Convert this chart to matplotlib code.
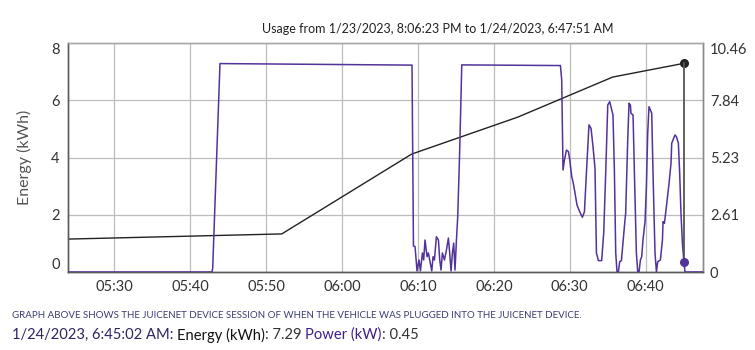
import datetime as dt

import matplotlib
matplotlib.use("Agg")
import matplotlib.pyplot as plt
import matplotlib.dates as mdates

plt.rcParams["font.family"] = ["Lato", "DejaVu Sans"]

# Minutes after 05:00 on 1/24/2023 and power draw (kW).
power_minutes = [
    23.94, 42.90, 42.99, 43.95, 69.23, 69.42, 69.63, 69.89, 70.15, 70.34,
    70.60, 70.77, 70.94, 71.21, 71.39, 71.56, 71.83, 72.00, 72.18, 72.44,
    72.71, 72.88, 73.05, 73.23, 73.50, 73.76, 74.02, 74.19, 74.37, 74.55,
    74.72, 74.89, 75.08, 75.25, 75.51, 75.78, 88.77, 88.94, 89.11, 89.30,
    89.56, 89.82, 90.00, 90.26, 90.43, 90.69, 90.95, 91.31, 91.66, 91.93,
    92.19, 92.53, 92.80, 93.06, 93.32, 93.51, 93.77, 94.20, 94.47, 94.73,
    95.00, 95.26, 95.69, 95.88, 96.05, 96.22, 96.40, 96.57, 96.80, 97.19,
    97.36, 97.63, 97.80, 97.98, 98.06, 98.33, 98.51, 98.77, 98.95, 99.12,
    99.30, 99.47, 99.64, 99.83, 99.91, 100.09, 100.26, 100.43, 100.62, 100.79,
    100.96, 101.22, 101.41, 101.58, 101.93, 102.20, 102.28, 102.46, 102.72, 103.07,
    103.33, 103.42, 103.68, 103.86, 104.04, 104.30, 104.47, 104.64, 104.83, 105.03,
    105.17, 107.54,
]
power_kw = [
    0.00, 0.00, 0.18, 9.52, 9.45, 1.19, 1.16, 0.05, 0.55, 0.05,
    0.87, 0.55, 1.46, 0.70, 0.87, 0.55, 0.05, 0.70, 0.55, 1.61,
    1.46, 0.55, 0.09, 0.87, 0.55, 1.00, 1.55, 0.87, 0.05, 0.87,
    1.32, 0.09, 1.46, 2.53, 5.57, 9.46, 9.43, 8.77, 4.66, 5.12,
    5.57, 5.50, 5.12, 4.35, 4.12, 3.61, 3.06, 2.75, 2.50, 2.75,
    4.52, 6.72, 6.56, 5.72, 4.74, 0.87, 0.52, 0.52, 1.78, 4.52,
    7.63, 7.78, 7.17, 4.52, 0.87, 0.00, 0.00, 0.47, 0.52, 2.07,
    2.70, 6.03, 7.71, 7.63, 7.25, 7.17, 4.52, 0.87, 0.00, 0.00,
    0.55, 0.70, 1.46, 2.07, 2.30, 3.90, 6.34, 7.55, 7.40, 7.25,
    4.52, 0.87, 0.00, 0.47, 0.55, 1.46, 2.30, 2.22, 2.98, 4.05,
    4.97, 5.88, 6.11, 6.26, 6.18, 5.88, 4.51, 2.68, 1.31, 0.45,
    0.00, 0.00,
]

# Cumulative energy (kWh).
energy_minutes = [23.94, 52.08, 69.19, 83.15, 95.65, 105.03]
energy_kwh = [1.15, 1.33, 4.12, 5.41, 6.81, 7.29]

# Hovered sample
hover_minute = 105.03
hover_energy = 7.29
hover_power = 0.45

energy_ticks = [0, 2, 4, 6, 8]
power_ticks = [0, 2.615, 5.23, 7.845, 10.46]
power_tick_labels = ["0", "2.61", "5.23", "7.84", "10.46"]

x_start = 23.94
x_end = 107.54

base = dt.datetime(2023, 1, 24, 5, 0, 0)


def to_time(minutes):
    return [base + dt.timedelta(minutes=m) for m in minutes]


purple = "#51339a"
spine_dark = "#5a5a5a"
grid_col = "#bdbdbd"

fig = plt.figure(figsize=(7.55, 3.5), dpi=100)
ax = fig.add_axes([68 / 755, 78 / 350, 635 / 755, 229 / 350])
ax2 = ax.twinx()

# Energy on the left axis, power on the right axis.
ax.plot(to_time(energy_minutes), energy_kwh, color="#222222", lw=1.0, zorder=3)
ax2.plot(to_time(power_minutes), power_kw, color=purple, lw=1.1, zorder=3)

# Hover crosshair between the two markers.
hover_t = to_time([hover_minute])[0]
ax2.plot([hover_t, hover_t], [hover_power, hover_energy * 10.46 / 8],
         color="#555555", lw=1.3, zorder=4)
ax.plot([hover_t], [hover_energy], "o", color="#222222", ms=5.5, zorder=5)
ax2.plot([hover_t], [hover_power], "o", color=purple, ms=5.5, zorder=5)

ax.set_xlim(to_time([x_start])[0], to_time([x_end])[0])
ax.set_ylim(0, 8)
ax2.set_ylim(0, 10.46)
ax.set_yticks(energy_ticks)
ax2.set_yticks(power_ticks)
ax2.set_yticklabels(power_tick_labels)

ax.xaxis.set_major_locator(mdates.MinuteLocator(byminute=[0, 10, 20, 30, 40, 50]))
ax.xaxis.set_major_formatter(mdates.DateFormatter("%H:%M"))

ax.grid(True, color=grid_col, lw=0.9)
ax.set_axisbelow(True)

for a in (ax, ax2):
    a.tick_params(length=0, labelsize=10.5, labelcolor="#333333")
ax.tick_params(axis="y", pad=6)
ax2.tick_params(axis="y", pad=5)
ax.tick_params(axis="x", pad=6)

# Edge labels sit inside the plot height.
ax.get_yticklabels()[-1].set_va("top")
ax.get_yticklabels()[0].set_va("bottom")
ax2.get_yticklabels()[-1].set_va("top")

for a in (ax, ax2):
    a.spines["top"].set_color("#aaaaaa")
    a.spines["left"].set_color(spine_dark)
    a.spines["bottom"].set_color(spine_dark)
    a.spines["right"].set_color("#8a8a8a")
    for s in a.spines.values():
        s.set_linewidth(1.0)

ax.set_ylabel("Energy (kWh)", fontsize=11.5, color="#555555", labelpad=14)

fig.text(438 / 755, 1 - 29 / 350,
         "Usage from 1/23/2023, 8:06:23 PM to 1/24/2023, 6:47:51 AM",
         ha="center", va="center", fontsize=9.0, color="#222222")

fig.text(12 / 755, 1 - 316 / 350,
         "GRAPH ABOVE SHOWS THE JUICENET DEVICE SESSION OF WHEN THE VEHICLE "
         "WAS PLUGGED INTO THE JUICENET DEVICE.",
         ha="left", va="center", fontsize=7.05, color="#3b3d73")

# Multi-coloured readout line, drawn piece by piece.
pieces = [
    ("1/24/2023, 6:45:02 AM: ", "#2e2560"),
    ("Energy (kWh)", "#111111"),
    (": 7.29 ", "#333333"),
    ("Power (kW)", "#3d1f8a"),
    (": 0.45", "#333333"),
]
renderer = fig.canvas.get_renderer()
x_px = 12
for text, col in pieces:
    t = fig.text(x_px / 755, 1 - 335 / 350, text, ha="left", va="center",
                 fontsize=10.6, color=col)
    x_px += t.get_window_extent(renderer=renderer).width

fig.savefig("out.png", dpi=100)
